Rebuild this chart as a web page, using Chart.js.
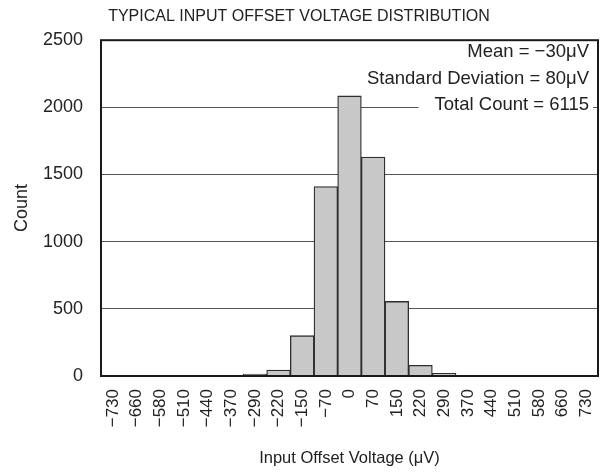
<!DOCTYPE html>
<html>
<head>
<meta charset="utf-8">
<script src="https://cdn.jsdelivr.net/npm/chart.js@4/dist/chart.umd.min.js"></script>
<style>
html,body{margin:0;padding:0;background:#fff;}
#wrap{position:relative;width:606px;height:472px;}
</style>
</head>
<body>
<div id="wrap"><canvas id="c"></canvas></div>
<script>
const categories = ["\u2212730","\u2212660","\u2212580","\u2212510","\u2212440","\u2212370","\u2212290","\u2212220","\u2212150","\u221270","0","70","150","220","290","370","440","510","580","660","730"];
const counts = [0,0,0,0,0,0,15,45,300,1410,2085,1630,555,80,20,0,0,0,0,0,0];
const yTicks = [0,500,1000,1500,2000,2500];
const statsLines = ["Mean = \u221230\u03bcV","Standard Deviation = 80\u03bcV","Total Count = 6115"];
const chartTitle = "TYPICAL INPUT OFFSET VOLTAGE DISTRIBUTION";
const xTitle = "Input Offset Voltage (\u03bcV)";
const yTitle = "Count";

const FONT = "'Liberation Sans', Arial, sans-serif";
const TXT = "#222";

const framePlugin = {
  id: 'frame',
  afterDatasetsDraw(chart) {
    const {ctx, chartArea: a} = chart;
    ctx.save();
    ctx.strokeStyle = '#1a1a1a';
    ctx.lineWidth = 2;
    ctx.strokeRect(a.left, a.top, a.right - a.left, a.bottom - a.top);
    ctx.restore();
  },
  afterDraw(chart) {
    const {ctx, chartArea: a} = chart;
    ctx.save();
    ctx.font = "18.5px " + FONT;
    ctx.textAlign = 'right';
    ctx.textBaseline = 'middle';
    const xr = a.right - 9;
    const y0 = a.top + 12;
    const dy = 26.5;
    statsLines.forEach((s, i) => {
      const w = ctx.measureText(s).width;
      const y = y0 + i * dy;
      ctx.fillStyle = '#fff';
      ctx.fillRect(xr - w - 16, y - 10, w + 20, 20);
      ctx.fillStyle = TXT;
      ctx.fillText(s, xr, y);
    });
    ctx.restore();
  }
};

new Chart(document.getElementById('c'), {
  type: 'bar',
  data: {
    labels: categories,
    datasets: [{
      data: counts,
      backgroundColor: '#c8c8c8',
      borderColor: '#2e2e2e',
      borderWidth: 1.3,
      barPercentage: 1,
      categoryPercentage: 1
    }]
  },
  options: {
    responsive: true,
    maintainAspectRatio: false,
    animation: false,
    layout: { padding: { left: 0, right: 8, top: 0, bottom: 0 } },
    plugins: {
      legend: { display: false },
      tooltip: { enabled: false },
      title: {
        display: true,
        text: chartTitle,
        color: TXT,
        font: { family: FONT, size: 16, weight: 'normal' },
        padding: { top: 7, bottom: 14 }
      }
    },
    scales: {
      x: {
        grid: { display: false, drawTicks: false },
        border: { display: false },
        ticks: {
          color: TXT,
          font: { family: FONT, size: 17 },
          minRotation: 90,
          maxRotation: 90,
          autoSkip: false,
          padding: 13
        },
        title: {
          display: true,
          text: xTitle,
          color: TXT,
          font: { family: FONT, size: 16.5 },
          padding: { top: 0, bottom: 4 }
        },
        afterFit(scale) { scale.height = 96; scale.paddingLeft = 0; scale.paddingRight = 0; }
      },
      y: {
        min: 0,
        max: 2500,
        afterBuildTicks(scale) { scale.ticks = yTicks.map(v => ({ value: v })); },
        grid: {
          drawTicks: false,
          color: ctx => (ctx.tick && (ctx.tick.value === 0 || ctx.tick.value === 2500)) ? 'rgba(0,0,0,0)' : '#555',
          lineWidth: 1
        },
        border: { display: false },
        ticks: {
          color: TXT,
          font: { family: FONT, size: 18 },
          padding: 18,
          callback: v => String(v)
        },
        title: {
          display: true,
          text: yTitle,
          color: TXT,
          font: { family: FONT, size: 18 },
          padding: { top: 11, bottom: 0 }
        },
        afterFit(scale) { scale.width = 101; }
      }
    }
  },
  plugins: [framePlugin]
});
</script>
</body>
</html>
